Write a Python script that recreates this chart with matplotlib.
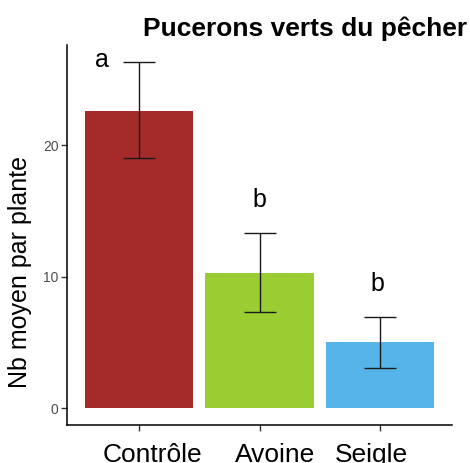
import matplotlib
matplotlib.use("Agg")
import matplotlib.pyplot as plt
import matplotlib.transforms as mtransforms

plt.rcParams['font.family'] = ['Liberation Sans', 'DejaVu Sans']

# Data
categories = ["Contrôle", "Avoine", "Seigle"]
means = [22.6, 10.3, 5.0]
err_low = [19.0, 7.3, 3.06]
err_high = [26.3, 13.33, 6.93]
colors = ["#A52A2A", "#9ACD32", "#56B4E9"]
letters = ["a", "b", "b"]
letter_x = [0.69, 2.0, 2.98]
letter_y = [25.94, 15.31, 8.91]

W, H = 470, 463
fig = plt.figure(figsize=(W / 100, H / 100), dpi=100)
ax = fig.add_axes([67 / W, 1 - 425 / H, (452 - 67) / W, (425 - 45) / H])

x = range(1, len(categories) + 1)
ax.bar(x, means, width=0.9, color=colors, zorder=1)

yerr = [[m - lo for m, lo in zip(means, err_low)],
        [hi - m for m, hi in zip(means, err_high)]]
ax.errorbar(x, means, yerr=yerr, fmt='none', ecolor='#1a1a1a',
            elinewidth=1.0, capsize=11.5, capthick=1.0, zorder=2)

for lx, ly, t in zip(letter_x, letter_y, letters):
    ax.text(lx, ly, t, ha='center', va='baseline', fontsize=18, color='black')

ax.set_xlim(0.4, 3.6)
ax.set_ylim(-1.27, 27.6)
ax.set_xticks(list(x))
ax.set_xticklabels(categories, fontsize=19, color='black')
ax.set_yticks([0, 10, 20])
ax.tick_params(axis='y', labelsize=10, labelcolor='#4D4D4D', length=4,
               width=1.0, color='#333333', pad=2)
ax.tick_params(axis='x', length=4.5, width=1.0, color='#333333', pad=8.5)

# the labels in the reference sit a little off their ticks
shifts = [13.5, 16.0, -8.5]
for lab, dx in zip(ax.get_xticklabels(), shifts):
    lab.set_transform(lab.get_transform() +
                      mtransforms.ScaledTranslation(dx / 100, 0, fig.dpi_scale_trans))

for side in ['top', 'right']:
    ax.spines[side].set_visible(False)
for side in ['left', 'bottom']:
    ax.spines[side].set_linewidth(1.1)
    ax.spines[side].set_color('black')

fig.text(20 / W, 1 - 271.5 / H, "Nb moyen par plante", rotation=90,
         ha='center', va='center', fontsize=18)
fig.text(143 / W, 1 - 36 / H, "Pucerons verts du pêcher", ha='left',
         va='baseline', fontsize=19, fontweight='bold')

fig.savefig("out.png", dpi=100)
